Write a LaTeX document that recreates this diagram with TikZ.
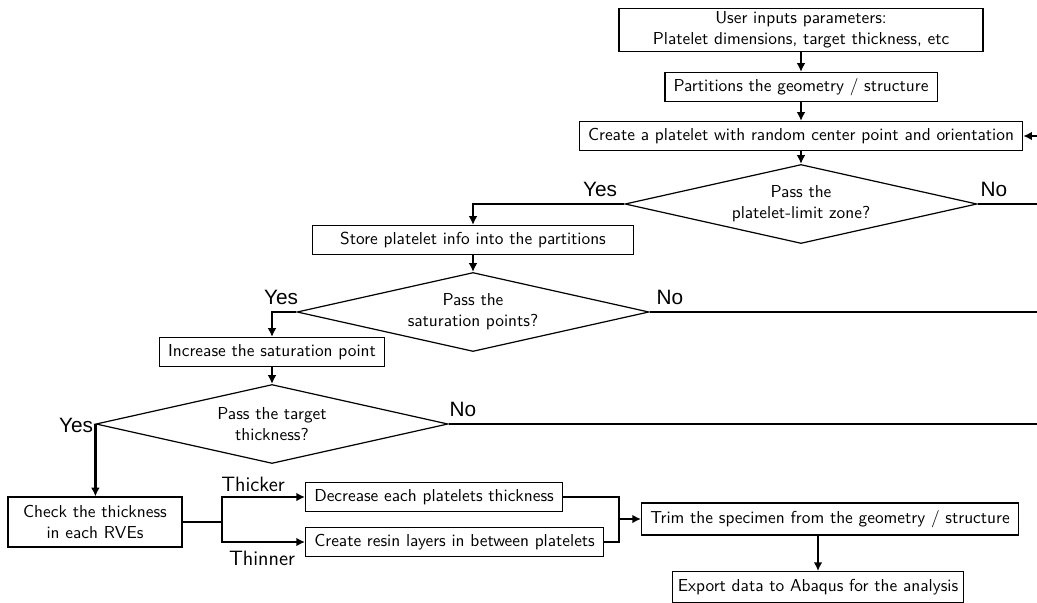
\documentclass[tikz,border=0pt]{standalone}
\usepackage{fontspec}
\newfontfamily\yesnofont{Liberation Sans}
\usepackage{tikz}
\usetikzlibrary{shapes}
\usetikzlibrary{positioning}
\usetikzlibrary{arrows.meta}

\begin{document}
\begin{tikzpicture}[x=0.0203cm,y=-0.0203cm,font=\sffamily,
  proc/.style={draw,rectangle,line width=0.7pt,inner xsep=5pt,inner ysep=2pt,minimum height=29*0.0203cm,align=center},
  decision/.style={draw,diamond,aspect=4.5,line width=0.7pt,minimum width=352*0.0203cm,minimum height=79*0.0203cm,inner sep=0pt,align=center},
  flow/.style={line width=1.6pt,-{Latex[length=5pt,width=5pt]}},
  link/.style={line width=1.6pt},
  lbl/.style={font=\yesnofont\large},
  branch/.style={font=\sffamily\large}]
\useasboundingbox (0,0) rectangle (1037,602);

\node[proc,minimum width=364*0.0203cm] (inputs) at (801,30) {User inputs parameters:\\Platelet dimensions, target thickness, etc};
\node[proc] (part) at (801,87) {Partitions the geometry / structure};
\node[proc] (create) at (801,136) {Create a platelet with random center point and orientation};
\node[decision] (zone) at (801,204) {Pass the\\platelet-limit zone?};
\node[proc,minimum width=321*0.0203cm] (store) at (473,240) {Store platelet info into the partitions};
\node[decision] (sat) at (473,312) {Pass the\\saturation points?};
\node[proc] (incr) at (272,352) {Increase the saturation point};
\node[decision] (target) at (272,424) {Pass the target\\thickness?};
\node[proc,minimum width=174*0.0203cm,minimum height=50*0.0203cm] (check) at (95,522) {Check the thickness\\in each RVEs};
\node[proc,anchor=west] (decr) at (305,497) {Decrease each platelets thickness};
\node[proc,anchor=west] (resin) at (305,542) {Create resin layers in between platelets};
\node[proc,anchor=west,minimum height=32*0.0203cm] (trim) at (641,519) {Trim the specimen from the geometry / structure};
\node[proc,anchor=north,inner xsep=3pt,minimum height=31*0.0203cm] (export) at (818,571) {Export data to Abaqus for the analysis};

\coordinate (loopin) at (1037,136);
\coordinate (noA) at (1037,204);
\coordinate (noB) at (1037,312);
\coordinate (noC) at (1037,424);
\coordinate (split) at (222,522);
\path (trim.west) ++(-22,0) coordinate (join);

\draw[flow] (inputs) -- (part);
\draw[flow] (part) -- (create);
\draw[flow] (loopin) -- (create.east);
\draw[flow] (create) -- (zone);
\draw[flow] (zone.west) -| (store.north);
\draw[link] (zone.east) -- (noA);
\draw[flow] (store) -- (sat);
\draw[flow] (sat.west) -| (incr.north);
\draw[link] (sat.east) -- (noB);
\draw[flow] (incr) -- (target);
\draw[flow] (target.west) -- (target.west |- check.north);
\draw[link] (target.east) -- (noC);
\draw[link] (check.east) -- (split);
\draw[flow] (split) |- (decr.west);
\draw[flow] (split) |- (resin.west);
\draw[link] (decr.east) -| (join);
\draw[link] (resin.east) -| (join);
\draw[flow] (join) -- (trim.west);
\draw[flow] (export.north |- trim.south) -- (export.north);

\node[lbl] (yesA) at (600,189) {Yes};
\node[lbl] (noAl) at (994,189) {No};
\node[lbl] (yesB) at (281,297) {Yes};
\node[lbl] (noBl) at (670,297) {No};
\node[lbl] (yesC) at (76,425) {Yes};
\node[lbl] (noCl) at (463,409) {No};
\node[branch] (thick) at (253,484) {Thicker};
\node[branch] (thin) at (262,558) {Thinner};
\end{tikzpicture}
\end{document}
